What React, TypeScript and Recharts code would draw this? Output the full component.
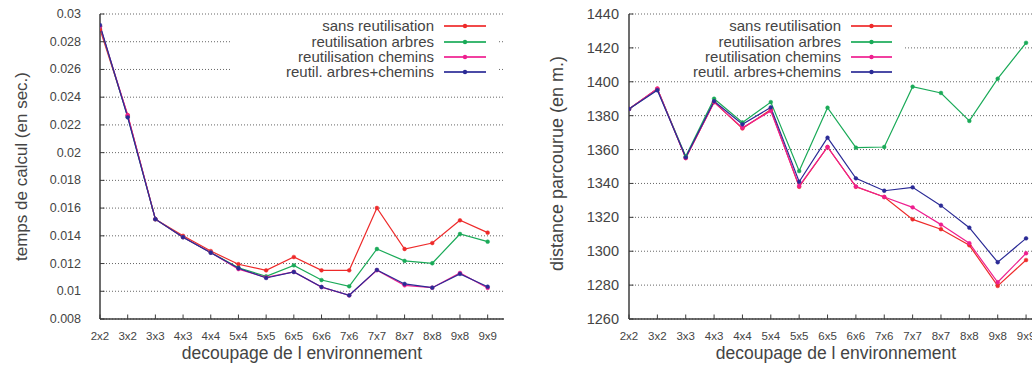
import React from 'react';
import { LineChart, Line, XAxis, YAxis, CartesianGrid, Legend } from 'recharts';

const categories = ['2x2', '3x2', '3x3', '4x3', '4x4', '5x4', '5x5', '6x5', '6x6', '7x6', '7x7', '8x7', '8x8', '9x8', '9x9'];

const seriesNames = ['sans reutilisation', 'reutilisation arbres', 'reutilisation chemins', 'reutil. arbres+chemins'];
const seriesColors = ['#ee2a2a', '#1aaa58', '#ee1f8f', '#2b2b96'];

const timeSans = [0.0289, 0.0227, 0.0152, 0.0140, 0.0129, 0.01195, 0.01151, 0.01247, 0.01151, 0.01151, 0.01601, 0.01305, 0.01348, 0.01512, 0.01423];
const timeArbres = [0.0291, 0.0226, 0.0152, 0.0139, 0.0128, 0.0117, 0.01108, 0.01187, 0.01081, 0.01036, 0.01305, 0.01219, 0.01202, 0.01413, 0.01358];
const timeChemins = [0.0291, 0.0227, 0.0152, 0.0139, 0.0128, 0.0116, 0.0110, 0.0114, 0.0103, 0.0097, 0.01152, 0.01043, 0.01026, 0.01132, 0.01024];
const timeArbresChemins = [0.0292, 0.02255, 0.0152, 0.0139, 0.01278, 0.01166, 0.01096, 0.01139, 0.01031, 0.00971, 0.01154, 0.01053, 0.01026, 0.01125, 0.01033];

const distSans = [1384, 1396, 1355, 1388, 1372.5, 1383.5, 1338, 1361.5, 1338, 1332, 1318.8, 1313, 1303.5, 1279.5, 1294.8];
const distArbres = [1384, 1395.5, 1356, 1390, 1376, 1388, 1347.3, 1384.7, 1361.1, 1361.5, 1397.1, 1393.4, 1376.9, 1401.8, 1423];
const distChemins = [1384, 1396, 1355, 1388, 1372.8, 1382.8, 1338.5, 1361.5, 1338.2, 1332, 1325.9, 1315.7, 1304.7, 1281.7, 1298.8];
const distArbresChemins = [1384, 1395, 1355.4, 1388.5, 1374.9, 1384.9, 1341, 1367, 1343, 1335.7, 1337.7, 1326.9, 1313.9, 1293.5, 1307.6];

const timeTicks = [0.008, 0.01, 0.012, 0.014, 0.016, 0.018, 0.02, 0.022, 0.024, 0.026, 0.028, 0.03];
const distTicks = [1260, 1280, 1300, 1320, 1340, 1360, 1380, 1400, 1420, 1440];

const xTitle = 'decoupage de l environnement';
const timeTitle = 'temps de calcul (en sec.)';
const distTitle = 'distance parcourue (en m.)';

const xTicks = categories.map((_, i) => i);
const X_DOMAIN: [number, number] = [0, 14.59];

const timeData = categories.map((c, i) => ({
  idx: i, cat: c,
  s0: timeSans[i], s1: timeArbres[i], s2: timeChemins[i], s3: timeArbresChemins[i],
}));
const distData = categories.map((c, i) => ({
  idx: i, cat: c,
  s0: distSans[i], s1: distArbres[i], s2: distChemins[i], s3: distArbresChemins[i],
}));

const FONT = "'Liberation Sans', Arial, Helvetica, sans-serif";
const TEXT = '#444';
const AXIS = '#3c3c3c';
const TL = 4.5;

const fmtTime = (v: number) => String(parseFloat(v.toFixed(3)));
const fmtDist = (v: number) => String(v);

const BottomTick = (props: any) => {
  const { x, y, payload } = props;
  return (
    <g>
      <line x1={x} y1={y} x2={x} y2={y - TL} stroke={AXIS} strokeWidth={1} />
      <text x={x} y={y + 16.5} textAnchor="middle" dominantBaseline="central" fontSize={11.5} fill={TEXT} fontFamily={FONT}>
        {categories[payload.value]}
      </text>
    </g>
  );
};
const TopTick = (props: any) => {
  const { x, y } = props;
  return <line x1={x} y1={y} x2={x} y2={y + TL} stroke={AXIS} strokeWidth={1} />;
};
const RightTick = (props: any) => {
  const { x, y } = props;
  return <line x1={x} y1={y} x2={x - TL} y2={y} stroke={AXIS} strokeWidth={1} />;
};
const makeLeftTick = (gap: number, size: number, fmt: (v: number) => string) => (props: any) => {
  const { x, y, payload } = props;
  return (
    <g>
      <line x1={x} y1={y} x2={x + TL} y2={y} stroke={AXIS} strokeWidth={1} />
      <text x={x - gap} y={y} textAnchor="end" dominantBaseline="central" fontSize={size} fill={TEXT} fontFamily={FONT}>
        {fmt(payload.value)}
      </text>
    </g>
  );
};

const makeYTitle = (text: string, dx: number, dy: number, size: number) => (props: any) => {
  const vb = props.viewBox || {};
  const cx = (vb.x || 0) + dx;
  const cy = (vb.y || 0) + (vb.height || 0) / 2 + dy;
  return (
    <text x={cx} y={cy} transform={`rotate(-90 ${cx} ${cy})`} textAnchor="middle" dominantBaseline="central" fontSize={size} fill={TEXT} fontFamily={FONT}>
      {text}
    </text>
  );
};
const makeXTitle = (text: string, baseline: number, size: number) => (props: any) => {
  const vb = props.viewBox || {};
  const cx = (vb.x || 0) + (vb.width || 0) / 2;
  return (
    <text x={cx} y={baseline} textAnchor="middle" fontSize={size} fill={TEXT} fontFamily={FONT}>
      {text}
    </text>
  );
};

const rowCenters = [11, 27, 42, 57];
const makeLegend = (textRight: number, sampleLeft: number, sampleRight: number) => () => (
  <div style={{ position: 'relative', width: '100%', height: '100%', background: '#fff' }}>
    {seriesNames.map((n, i) => (
      <React.Fragment key={n}>
        <div style={{
          position: 'absolute', left: 0, top: rowCenters[i] - 9, width: textRight, textAlign: 'right',
          fontSize: 15, lineHeight: '18px', color: TEXT, fontFamily: FONT, whiteSpace: 'nowrap',
        }}>{n}</div>
        <svg style={{ position: 'absolute', left: sampleLeft, top: rowCenters[i] - 4 }} width={sampleRight - sampleLeft} height={8}>
          <line x1={0} y1={4} x2={sampleRight - sampleLeft} y2={4} stroke={seriesColors[i]} strokeWidth={1.8} strokeOpacity={0.85} />
          <circle cx={(sampleRight - sampleLeft) / 2} cy={4} r={2.2} fill={seriesColors[i]} />
        </svg>
      </React.Fragment>
    ))}
  </div>
);

type PanelProps = {
  data: any[];
  width: number;
  yAxisWidth: number;
  marginRight: number;
  yDomain: [number, number];
  yTicks: number[];
  yTick: (p: any) => any;
  yTitle: (p: any) => any;
  legendLeft: number;
  legend: () => any;
};

const Panel = (p: PanelProps) => (
  <LineChart width={p.width} height={369} data={p.data} margin={{ top: 14, right: p.marginRight, bottom: 0, left: 0 }}>
    <CartesianGrid vertical={false} stroke="#666" strokeDasharray="1 2" strokeWidth={1} horizontalValues={p.yTicks} />
    <XAxis dataKey="idx" type="number" domain={X_DOMAIN} ticks={xTicks} interval={0} allowDataOverflow
      height={50} tickSize={0} tickMargin={0} tickLine={false} tick={BottomTick}
      axisLine={{ stroke: AXIS, strokeWidth: 1.5 }} label={{ content: makeXTitle(xTitle, 359, 17.5) } as any} />
    <XAxis xAxisId="top" orientation="top" type="number" domain={X_DOMAIN} ticks={xTicks} interval={0} allowDataOverflow
      height={0} tickSize={0} tickMargin={0} tickLine={false} tick={TopTick}
      axisLine={{ stroke: AXIS, strokeWidth: 1.5 }} />
    <YAxis type="number" domain={p.yDomain} ticks={p.yTicks} interval={0} allowDataOverflow
      width={p.yAxisWidth} tickSize={0} tickMargin={0} tickLine={false} tick={p.yTick}
      axisLine={{ stroke: AXIS, strokeWidth: 1.5 }} label={{ content: p.yTitle } as any} />
    <YAxis yAxisId="right" orientation="right" type="number" domain={p.yDomain} ticks={p.yTicks} interval={0} allowDataOverflow
      width={0} tickSize={0} tickMargin={0} tickLine={false} tick={RightTick}
      axisLine={{ stroke: AXIS, strokeWidth: 1.5 }} />
    <Legend layout="vertical" align="center" verticalAlign="middle" content={p.legend}
      wrapperStyle={{ left: p.legendLeft, top: 15, width: 265, height: 66, background: '#fff' }} />
    {['s0', 's1', 's2', 's3'].map((k, i) => (
      <Line key={k} dataKey={k} name={seriesNames[i]} stroke={seriesColors[i]} strokeWidth={1.2}
        dot={{ r: 1.9, fill: seriesColors[i], stroke: seriesColors[i], strokeWidth: 0.5 }}
        activeDot={false} isAnimationActive={false} />
    ))}
  </LineChart>
);

export default function App() {
  return (
    <div style={{ position: 'absolute', left: 0, top: 0, width: 1032, height: 369, overflow: 'hidden', background: '#fff' }}>
      <div style={{ position: 'absolute', left: 0, top: 0 }}>
        <Panel data={timeData} width={520} yAxisWidth={100} marginRight={16}
          yDomain={[0.008, 0.03]} yTicks={timeTicks}
          yTick={makeLeftTick(19, 12.5, fmtTime)}
          yTitle={makeYTitle(timeTitle, 21, 0, 17)}
          legendLeft={232} legend={makeLegend(202, 212, 254)} />
      </div>
      <div style={{ position: 'absolute', left: 510, top: 0 }}>
        <Panel data={distData} width={540} yAxisWidth={119} marginRight={7.2}
          yDomain={[1260, 1440]} yTicks={distTicks}
          yTick={makeLeftTick(10, 14.5, fmtDist)}
          yTitle={makeYTitle(distTitle, 47, -3, 18)}
          legendLeft={130} legend={makeLegend(201, 211, 252)} />
      </div>
    </div>
  );
}
